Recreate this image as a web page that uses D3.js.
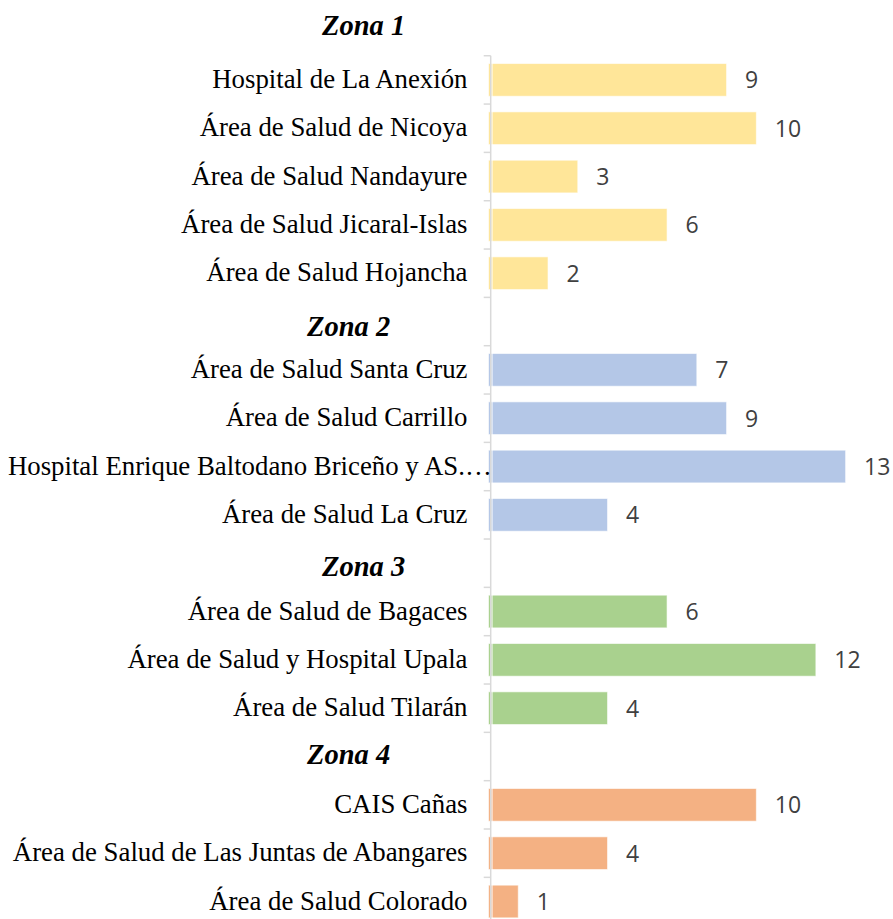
<!DOCTYPE html>
<head>
    <meta charset="utf-8">
    <script src="https://d3js.org/d3.v7.min.js"></script>
    <style>
        body {
            margin: 0;
            background-color: #fff;
        }

        .cat-label {
            font-family: "Liberation Serif", "Times New Roman", serif;
            font-size: 26.8px;
            fill: #000;
            text-anchor: end;
        }

        .zone-label {
            font-family: "Liberation Serif", "Times New Roman", serif;
            font-size: 28.5px;
            font-weight: bold;
            font-style: italic;
            fill: #000;
        }

        .value-label {
            font-family: "Open Sans", "Noto Sans", sans-serif;
            font-size: 23px;
            fill: #404040;
        }

        .axis-line {
            stroke: #d9d9d9;
            stroke-width: 1.5px;
            fill: none;
        }
    </style>
</head>

<body>
    <script>
        var width = 893,
            height = 919;

        var zones = ["Zona 1", "Zona 2", "Zona 3", "Zona 4"];
        var zoneColors = ["#ffe699", "#b4c7e7", "#a9d18e", "#f4b183"];

        var categories = [
            "Hospital de La Anexión",
            "Área de Salud de Nicoya",
            "Área de Salud Nandayure",
            "Área de Salud Jicaral-Islas",
            "Área de Salud Hojancha",
            "Área de Salud Santa Cruz",
            "Área de Salud Carrillo",
            "Hospital Enrique Baltodano Briceño y AS.…",
            "Área de Salud La Cruz",
            "Área de Salud de Bagaces",
            "Área de Salud y Hospital Upala",
            "Área de Salud Tilarán",
            "CAIS Cañas",
            "Área de Salud de Las Juntas de Abangares",
            "Área de Salud Colorado"
        ];
        var zoneOf = [0, 0, 0, 0, 0, 1, 1, 1, 1, 2, 2, 2, 3, 3, 3];

        // bar lengths as drawn, and the data labels printed beside them
        var barValues = [8, 9, 3, 6, 2, 7, 8, 12, 4, 6, 11, 4, 9, 4, 1];
        var labelValues = [9, 10, 3, 6, 2, 7, 9, 13, 4, 6, 12, 4, 10, 4, 1];

        // rows: each zone header takes one slot, followed by its items
        var rows = [];
        zones.forEach(function(z, zi) {
            rows.push({ type: "zone", name: z, zone: zi });
            categories.forEach(function(c, i) {
                if (zoneOf[i] === zi) {
                    rows.push({ type: "item", name: c, zone: zi, value: barValues[i], label: labelValues[i] });
                }
            });
        });

        // zone header placement (left x, baseline shift from slot centre)
        var zoneX = [322, 307, 322, 307];
        var zoneDy = [3.5, 14.5, 13, 7];

        var svg = d3.select("body").append("svg")
            .attr("width", width)
            .attr("height", height);

        var slot = 48.33;
        var y = d3.scaleBand()
            .domain(d3.range(rows.length))
            .range([7.4, 7.4 + slot * rows.length]);

        var x = d3.scaleLinear()
            .domain([0, 13])
            .range([488.5, 488.5 + 13 * 29.76]);

        var axisX = 490.7;
        var barH = 32.7;

        var items = rows.map(function(d, i) { d.i = i; return d; })
            .filter(function(d) { return d.type === "item"; });
        var heads = rows.filter(function(d) { return d.type === "zone"; });

        svg.append("g")
            .selectAll("rect")
            .data(items)
            .enter().append("rect")
            .attr("x", x(0))
            .attr("y", function(d) { return y(d.i) + (slot - barH) / 2; })
            .attr("width", function(d) { return x(d.value) - x(0); })
            .attr("height", barH)
            .attr("fill", function(d) { return zoneColors[d.zone]; })
            .attr("stroke", "#fff")
            .attr("stroke-opacity", 0.6)
            .attr("stroke-width", 1);

        // small white gap between the axis and the bars
        svg.append("line")
            .attr("x1", axisX + 1.3).attr("x2", axisX + 1.3)
            .attr("y1", 0).attr("y2", height)
            .attr("stroke", "#fff")
            .attr("stroke-width", 1);

        // category axis line + ticks at slot boundaries
        var axis = svg.append("g");
        axis.append("line")
            .attr("class", "axis-line")
            .attr("x1", axisX).attr("x2", axisX)
            .attr("y1", y(1)).attr("y2", height + 10);

        axis.selectAll(".tick")
            .data(d3.range(1, rows.length))
            .enter().append("line")
            .attr("class", "axis-line tick")
            .attr("x1", axisX - 7).attr("x2", axisX)
            .attr("y1", function(i) { return y(i); })
            .attr("y2", function(i) { return y(i); });

        svg.append("g")
            .selectAll("text")
            .data(items)
            .enter().append("text")
            .attr("class", "cat-label")
            .attr("x", function(d) { return /…$/.test(d.name) ? axisX + 1 : 467.5; })
            .attr("y", function(d) { return y(d.i) + slot / 2; })
            .attr("dy", "0.3em")
            .text(function(d) { return d.name; });

        svg.append("g")
            .selectAll("text")
            .data(heads)
            .enter().append("text")
            .attr("class", "zone-label")
            .attr("x", function(d) { return zoneX[d.zone]; })
            .attr("y", function(d) { return y(d.i) + slot / 2 + zoneDy[d.zone]; })
            .text(function(d) { return d.name; });

        svg.append("g")
            .selectAll("text")
            .data(items)
            .enter().append("text")
            .attr("class", "value-label")
            .attr("x", function(d) { return x(d.value) + 18.5; })
            .attr("y", function(d) { return y(d.i) + slot / 2; })
            .attr("dy", "0.37em")
            .text(function(d) { return d.label; });
    </script>
</body>
